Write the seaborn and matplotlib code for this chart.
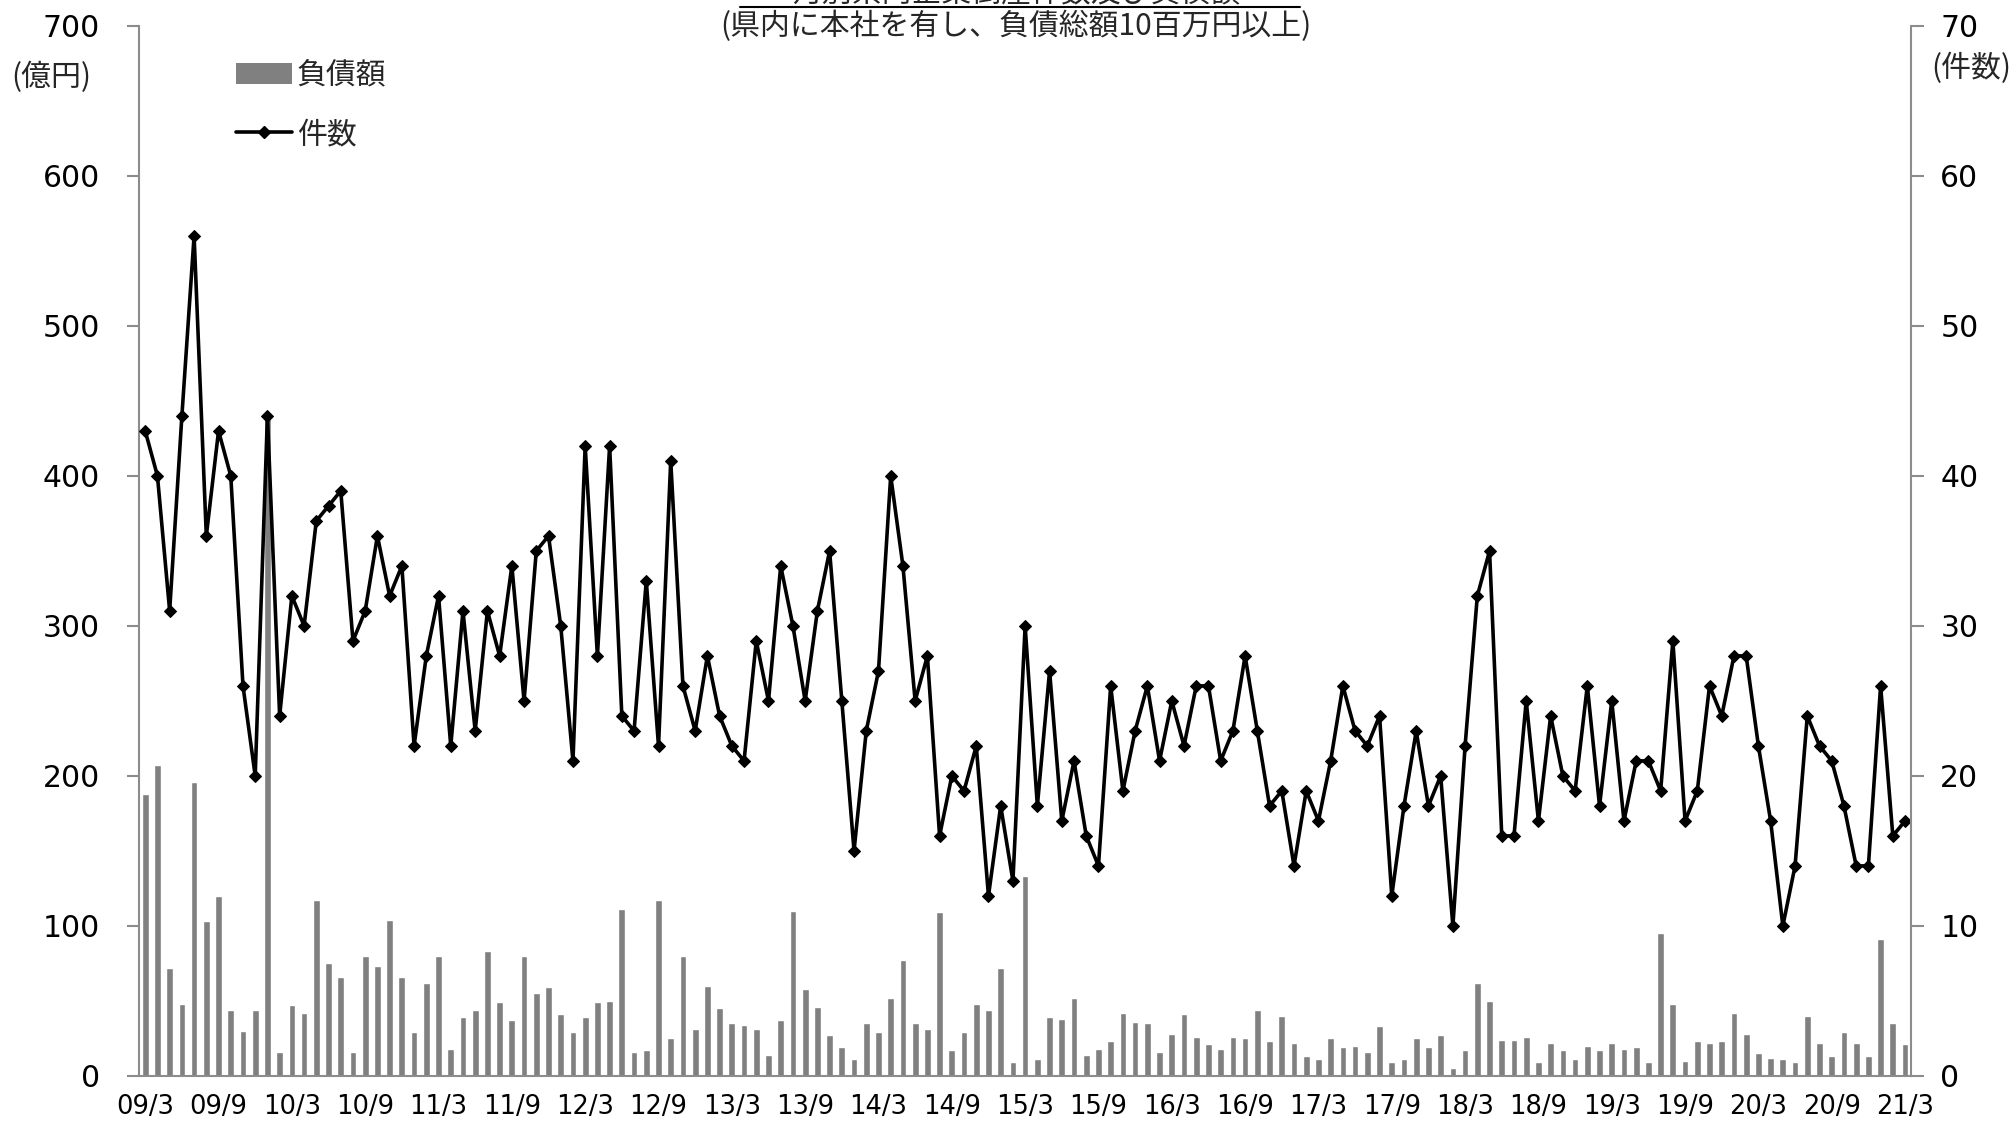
"""
Monthly corporate bankruptcies in the prefecture: count (line) and liabilities (bars).

Output:
    out.png
"""

import numpy as np
import pandas as pd
import matplotlib

matplotlib.use("Agg")
import matplotlib.pyplot as plt
import seaborn as sns
from matplotlib.patches import Patch
from matplotlib.lines import Line2D
from matplotlib.font_manager import FontProperties


# monthly data, 2009/3 .. 2021/3
count = [
    43, 40, 31, 44, 56, 36, 43, 40, 26, 20, 44, 24, 32, 30, 37, 38, 39, 29, 31, 36, 32, 34, 22, 28,
    32, 22, 31, 23, 31, 28, 34, 25, 35, 36, 30, 21, 42, 28, 42, 24, 23, 33, 22, 41, 26, 23, 28, 24,
    22, 21, 29, 25, 34, 30, 25, 31, 35, 25, 15, 23, 27, 40, 34, 25, 28, 16, 20, 19, 22, 12, 18, 13,
    30, 18, 27, 17, 21, 16, 14, 26, 19, 23, 26, 21, 25, 22, 26, 26, 21, 23, 28, 23, 18, 19, 14, 19,
    17, 21, 26, 23, 22, 24, 12, 18, 23, 18, 20, 10, 22, 32, 35, 16, 16, 25, 17, 24, 20, 19, 26, 18,
    25, 17, 21, 21, 19, 29, 17, 19, 26, 24, 28, 28, 22, 17, 10, 14, 24, 22, 21, 18, 14, 14, 26, 16, 17,
]
debt = [
    188, 207, 72, 48, 196, 103, 120, 44, 30, 44, 440, 16, 47, 42, 117, 75, 66, 16, 80, 73, 104, 66, 29, 62,
    80, 18, 39, 44, 83, 49, 37, 80, 55, 59, 41, 29, 39, 49, 50, 111, 16, 17, 117, 25, 80, 31, 60, 45,
    35, 34, 31, 14, 37, 110, 58, 46, 27, 19, 11, 35, 29, 52, 77, 35, 31, 109, 17, 29, 48, 44, 72, 9,
    133, 11, 39, 38, 52, 14, 18, 23, 42, 36, 35, 16, 28, 41, 26, 21, 18, 26, 25, 44, 23, 40, 22, 13,
    11, 25, 19, 20, 16, 33, 9, 11, 25, 19, 27, 5, 17, 62, 50, 24, 24, 26, 9, 22, 17, 11, 20, 17,
    22, 18, 19, 9, 95, 48, 10, 23, 22, 23, 42, 28, 15, 12, 11, 9, 40, 22, 13, 29, 22, 13, 91, 35, 21,
]
tick_labels = [
    "09/3", "09/9", "10/3", "10/9", "11/3", "11/9", "12/3", "12/9", "13/3", "13/9", "14/3", "14/9",
    "15/3", "15/9", "16/3", "16/9", "17/3", "17/9", "18/3", "18/9", "19/3", "19/9", "20/3", "20/9", "21/3",
]

BAR_COLOR = "#808080"
AXIS_COLOR = "#8c8c8c"
JP = ["Noto Sans CJK JP", "DejaVu Sans"]


def main() -> None:
    sns.set_theme(style="white")
    plt.rcParams["font.family"] = ["DejaVu Sans", "Noto Sans CJK JP"]

    n = len(count)
    df = pd.DataFrame({"pos": np.arange(n), "debt": debt, "count": count})

    fig = plt.figure(figsize=(20.16, 11.26), dpi=100)
    ax = fig.add_axes([0.069, 0.0445, 0.879, 0.9325])

    sns.barplot(data=df, x="pos", y="debt", color=BAR_COLOR, saturation=1, width=0.55, ax=ax)
    ax2 = ax.twinx()
    sns.lineplot(
        data=df, x="pos", y="count", color="black", linewidth=2.6,
        marker="D", markersize=6, markeredgecolor="black", ax=ax2,
    )

    ax.set_xlim(-0.5, n - 0.5)
    ax.set_ylim(0, 700)
    ax2.set_ylim(0, 70)
    ax.set_yticks(range(0, 701, 100))
    ax2.set_yticks(range(0, 71, 10))
    ax.set_xticks(np.arange(0, n, 6))
    ax.set_xticklabels(tick_labels)
    ax.set_xticks(np.arange(-0.5, n, 6), minor=True)
    for a in (ax, ax2):
        a.set_xlabel("")
        a.set_ylabel("")

    # axis styling like the spreadsheet original
    ax.spines["top"].set_visible(False)
    ax.spines["right"].set_visible(False)
    for s in ("top", "left", "bottom"):
        ax2.spines[s].set_visible(False)
    ax.spines["left"].set_color(AXIS_COLOR)
    ax.spines["bottom"].set_color(AXIS_COLOR)
    ax2.spines["right"].set_color(AXIS_COLOR)
    for sp in (ax.spines["left"], ax.spines["bottom"], ax2.spines["right"]):
        sp.set_linewidth(1.5)

    ax.tick_params(axis="x", which="major", length=0, labelsize=18.5, pad=13, colors="black")
    ax.tick_params(axis="x", which="minor", length=9, width=1.5, color=AXIS_COLOR, direction="out")
    ax.tick_params(axis="y", length=9, width=1.5, color=AXIS_COLOR, direction="out",
                   labelsize=21.5, pad=19, labelcolor="black", left=True)
    ax2.tick_params(axis="y", length=9, width=1.5, color=AXIS_COLOR, direction="out",
                    labelsize=21.5, pad=12, labelcolor="black", right=True)

    jp = FontProperties(family=JP, size=21.5)
    fig.text(0.0255, 0.931, "(億円)", ha="center", va="center", fontproperties=jp)
    fig.text(0.978, 0.939, "(件数)", ha="center", va="center", fontproperties=jp)
    fig.text(0.504, 0.977, "(県内に本社を有し、負債総額10百万円以上)", ha="center", va="center",
             fontproperties=jp)
    # first title line is cut off by the top edge in the original
    fig.text(0.504, 1.0055, "月別県内企業倒産件数及び負債額", ha="center", va="center",
             fontproperties=jp)
    fig.add_artist(Line2D([0.367, 0.645], [0.9935, 0.9935], color="black", lw=1.5,
                          transform=fig.transFigure))

    handles = [
        Patch(facecolor=BAR_COLOR, edgecolor="none", label="負債額"),
        Line2D([0], [0], color="black", lw=2.6, marker="D", markersize=6, label="件数"),
    ]
    fig.legend(handles=handles, loc="upper left", bbox_to_anchor=(0.1035, 0.971), frameon=False,
               prop=jp, handlelength=1.9, handletextpad=0.15, labelspacing=0.95)

    fig.savefig("out.png", dpi=100)
    plt.close(fig)


if __name__ == "__main__":
    main()
